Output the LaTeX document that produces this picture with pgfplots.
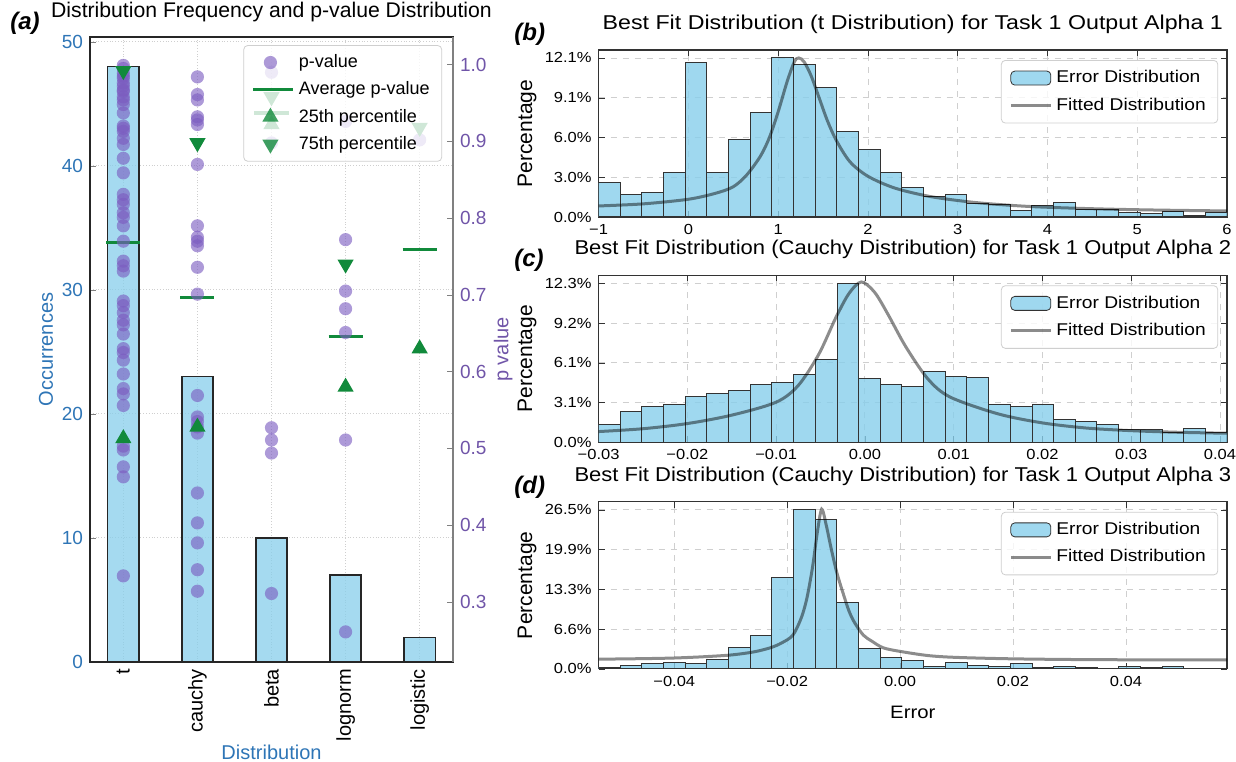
\documentclass[border=0pt]{standalone}
\usepackage{fontspec}
\setmainfont{Liberation Sans}
\newfontfamily\widesf[FakeStretch=1.13]{Liberation Sans}
\newfontfamily\titlebf[FakeStretch=1.16]{Liberation Sans}
\newfontfamily\titlecf[FakeStretch=1.10]{Liberation Sans}
\usepackage{pgfplots}
\pgfplotsset{compat=1.18}
\definecolor{barblue}{HTML}{87CEEB}
\definecolor{pblue}{HTML}{2E75B6}
\definecolor{ppurple}{HTML}{7055A8}
\definecolor{mpurple}{HTML}{7B5CC0}
\definecolor{pgreen}{HTML}{118A3B}
\definecolor{gridc}{HTML}{CFCFCF}

\pgfplotsset{
  patchleg/.style={legend image code/.code={\draw[##1] (0pt,-3.5pt) rectangle (20pt,3.5pt);}},
  lineleg/.style={legend image code/.code={\draw[##1] (0pt,0pt) -- (20pt,0pt);}},
  pv/.style={only marks, mark=*, mark size=3.3pt, color=mpurple, mark options={fill=mpurple, fill opacity=0.62, draw opacity=0}},
  q1/.style={only marks, mark=triangle*, mark size=4.7pt, color=pgreen, mark options={fill=pgreen, draw opacity=0}},
  q3/.style={only marks, mark=triangle*, mark size=4.7pt, color=pgreen, mark options={fill=pgreen, draw opacity=0, rotate=180}},
  avg/.style={pgreen, line width=1.6pt},
  hist/.style={
    width=314.2pt, height=83.5pt, scale only axis,
    scaled x ticks=false, scaled y ticks=false,
    axis line style={black!80, line width=0.6pt},
    grid=major, grid style={gridc, dashed, line width=0.4pt},
    tick align=inside, major tick length=3pt, tick style={black!80},
    tick label style={font=\widesf\fontsize{7.3}{8.5}\selectfont},
    title style={at={(0.5,1)}, anchor=base, inner sep=0pt, yshift=4.2pt},
    ylabel style={font=\fontsize{10.5}{12}\selectfont, at={(rel axis cs:-0.114,0.5)}, anchor=center},
    ymin=0,
    legend style={at={(0.986,0.94)}, anchor=north east, font=\widesf\fontsize{8.5}{10}\selectfont,
      fill=white, fill opacity=0.8, text opacity=1, draw=gridc, rounded corners=2pt,
      row sep=2pt, inner xsep=4pt, inner ysep=3pt},
    legend cell align=left,
  },
  histbar/.style={ybar interval, fill=barblue, fill opacity=0.8, draw=black!80, line width=0.5pt, forget plot},
  fitline/.style={smooth, black, opacity=0.45, line width=1.5pt, forget plot},
}

\begin{document}
\begin{tikzpicture}
\path[use as bounding box] (0,0) rectangle (618pt,380.5pt);

\node[anchor=base west, inner sep=0pt, font=\bfseries\itshape\fontsize{12}{14}\selectfont] at (5pt,365.5pt) {(a)};
\node[anchor=base west, inner sep=0pt, font=\bfseries\itshape\fontsize{12}{14}\selectfont] at (257pt,360pt) {(b)};
\node[anchor=base west, inner sep=0pt, font=\bfseries\itshape\fontsize{12}{14}\selectfont] at (257pt,247.2pt) {(c)};
\node[anchor=base west, inner sep=0pt, font=\bfseries\itshape\fontsize{12}{14}\selectfont] at (257pt,134pt) {(d)};

% ---------- (a) occurrences ----------
\begin{axis}[
  at={(45pt,49.5pt)}, anchor=south west, width=181.5pt, height=312.5pt, scale only axis,
  xmin=-0.45, xmax=4.45, ymin=0, ymax=50.4,
  xtick={0,1,2,3,4}, xticklabels={t,cauchy,beta,lognorm,logistic},
  ytick={0,10,20,30,40,50}, yticklabels={0,10,20,30,40,50},
  ytick pos=left, tick align=inside, major tick length=3pt,
  xtick style={draw=none},
  x tick label style={rotate=90, anchor=east, font=\fontsize{10}{12}\selectfont},
  y tick label style={font=\fontsize{9.5}{11}\selectfont, text=pblue},
  grid=major, grid style={gridc, densely dotted, line width=0.5pt},
  axis line style={black!85, line width=0.6pt},
  title={Distribution Frequency and p-value Distribution},
  title style={at={(0.5,1)}, anchor=base, inner sep=0pt, yshift=3.5pt, font=\fontsize{10.6}{12}\selectfont},
  ylabel={Occurrences},
  ylabel style={text=pblue, font=\fontsize{10}{12}\selectfont, at={(rel axis cs:-0.121,0.5)}, anchor=center},
  xlabel={Distribution},
  xlabel style={text=pblue, font=\fontsize{10}{12}\selectfont, at={(rel axis cs:0.5,-0.144)}, anchor=center},
]
\addplot[ybar, bar width=0.42, fill=barblue, fill opacity=0.75, draw=black!85, line width=0.7pt]
  coordinates {(0,48) (1,23) (2,10) (3,7) (4,2)};
\end{axis}

% ---------- (a) p values ----------
\begin{axis}[
  at={(45pt,49.5pt)}, anchor=south west, width=181.5pt, height=312.5pt, scale only axis,
  xmin=-0.45, xmax=4.45, ymin=0.2218, ymax=1.036,
  axis x line=none, axis y line*=right,
  y axis line style={gray, line width=1.1pt},
  ytick={0.3,0.4,0.5,0.6,0.7,0.8,0.9,1.0},
  yticklabels={0.3,0.4,0.5,0.6,0.7,0.8,0.9,1.0},
  tick align=inside, major tick length=3pt, ytick style={gray},
  y tick label style={font=\fontsize{9.5}{11}\selectfont, text=ppurple},
  clip=false,
  legend style={at={(0.970,0.987)}, anchor=north east, font=\fontsize{9}{10}\selectfont,
    fill=white, fill opacity=0.8, text opacity=1, draw=gridc, rounded corners=2pt,
    row sep=1.6pt, inner xsep=4pt, inner ysep=2.5pt},
  legend cell align=left,
]
\addlegendimage{pv}
\addlegendentry{p-value}
\addlegendimage{lineleg, avg}
\addlegendentry{Average p-value}
\addlegendimage{q1}
\addlegendentry{25th percentile}
\addlegendimage{q3}
\addlegendentry{75th percentile}

% p-values of each fit
\addplot[pv, forget plot] coordinates {
  (0,0.999) (0,0.995) (0,0.989) (0,0.985) (0,0.982) (0,0.976) (0,0.972) (0,0.967)
  (0,0.965) (0,0.958) (0,0.954) (0,0.948) (0,0.937) (0,0.920) (0,0.917) (0,0.913)
  (0,0.904) (0,0.896) (0,0.878) (0,0.859) (0,0.831) (0,0.824) (0,0.818) (0,0.807)
  (0,0.801) (0,0.790) (0,0.770) (0,0.744) (0,0.738) (0,0.731) (0,0.692) (0,0.686)
  (0,0.677) (0,0.667) (0,0.661) (0,0.649) (0,0.630) (0,0.625) (0,0.615) (0,0.597)
  (0,0.578) (0,0.571) (0,0.556) (0,0.503) (0,0.498) (0,0.476) (0,0.463) (0,0.334)
  (1,0.984) (1,0.961) (1,0.954) (1,0.932) (1,0.928) (1,0.922) (1,0.870) (1,0.790)
  (1,0.775) (1,0.770) (1,0.764) (1,0.736) (1,0.701) (1,0.569) (1,0.541) (1,0.535)
  (1,0.528) (1,0.520) (1,0.442) (1,0.403) (1,0.377) (1,0.342) (1,0.314)
  (2,0.990) (2,0.898) (2,0.527) (2,0.511) (2,0.494) (2,0.311)
  (3,0.926) (3,0.772) (3,0.705) (3,0.682) (3,0.651) (3,0.511) (3,0.261)
  (4,0.902)};

% averages
\addplot[avg, forget plot] coordinates {(-0.23,0.768) (0.23,0.768)};
\addplot[avg, forget plot] coordinates {(0.77,0.697) (1.23,0.697)};
\addplot[avg, forget plot] coordinates {(1.77,0.937) (2.23,0.937)};
\addplot[avg, forget plot] coordinates {(2.77,0.646) (3.23,0.646)};
\addplot[avg, forget plot] coordinates {(3.77,0.759) (4.23,0.759)};

% quartiles
\addplot[q1, forget plot] coordinates {(0,0.513) (1,0.528) (2,0.922) (3,0.580) (4,0.630)};
\addplot[q3, forget plot] coordinates {(0,0.992) (1,0.898) (2,0.958) (3,0.740) (4,0.918)};

\node[rotate=90, text=ppurple, font=\fontsize{10}{12}\selectfont] at (rel axis cs:1.138,0.5) {p value};
\end{axis}

% ---------- (b) ----------
\begin{axis}[hist, at={(299.3pt,272pt)}, anchor=south west,
  title={Best Fit Distribution (t Distribution) for Task 1 Output Alpha 1},
  title style={font=\titlebf\fontsize{10}{12}\selectfont},
  xmin=-1, xmax=6, ymax=12.705,
  xtick={-1,0,1,2,3,4,5,6}, xticklabels={−1,0,1,2,3,4,5,6},
  ytick={0,3.025,6.05,9.075,12.1}, yticklabels={0.0\%,3.0\%,6.0\%,9.1\%,12.1\%},
  ylabel={Percentage}]
\addlegendimage{patchleg, fill=barblue, fill opacity=0.8, draw=black!80}
\addlegendentry{Error Distribution}
\addlegendimage{lineleg, black, opacity=0.45, line width=1.5pt}
\addlegendentry{Fitted Distribution}
\addplot[histbar] coordinates {
  (-1.0000,2.60) (-0.7586,1.71) (-0.5172,1.86) (-0.2759,3.36) (-0.0345,11.72)
  (0.2069,3.36) (0.4483,5.86) (0.6897,7.95) (0.9310,12.10) (1.1724,11.59)
  (1.4138,9.86) (1.6552,6.47) (1.8966,5.12) (2.1379,3.36) (2.3793,2.22)
  (2.6207,1.58) (2.8621,1.73) (3.1034,1.02) (3.3448,0.97) (3.5862,0.51)
  (3.8276,0.84) (4.0690,1.10) (4.3103,0.56) (4.5517,0.56) (4.7931,0.33)
  (5.0345,0.25) (5.2759,0.41) (5.5172,0.13) (5.7586,0.33) (6.0000,0.33)};
\addplot[fitline] coordinates {
  (-1.0,0.84) (-0.5,1.0) (0.0,1.35) (0.3,1.8) (0.5,2.3) (0.65,3.2) (0.8,4.6)
  (0.9,6.0) (1.0,8.0) (1.1,10.3) (1.18,11.8) (1.23,12.1) (1.29,11.8) (1.37,10.7)
  (1.46,9.0) (1.55,7.3) (1.65,5.8) (1.8,4.2) (2.0,3.1) (2.3,2.2) (2.7,1.55)
  (3.2,1.1) (3.8,0.8) (4.5,0.63) (5.2,0.53) (6.0,0.46)};
\end{axis}

% ---------- (c) ----------
\begin{axis}[hist, at={(299.3pt,159.35pt)}, anchor=south west,
  title={Best Fit Distribution (Cauchy Distribution) for Task 1 Output Alpha 2},
  title style={font=\titlecf\fontsize{10}{12}\selectfont, xshift=-5pt},
  xmin=-0.03, xmax=0.0408, ymax=12.915,
  xtick={-0.03,-0.02,-0.01,0,0.01,0.02,0.03,0.04},
  xticklabels={−0.03,−0.02,−0.01,0.00,0.01,0.02,0.03,0.04},
  ytick={0,3.075,6.15,9.225,12.3}, yticklabels={0.0\%,3.1\%,6.1\%,9.2\%,12.3\%},
  ylabel={Percentage}]
\addlegendimage{patchleg, fill=barblue, fill opacity=0.8, draw=black!80}
\addlegendentry{Error Distribution}
\addlegendimage{lineleg, black, opacity=0.45, line width=1.5pt}
\addlegendentry{Fitted Distribution}
\addplot[histbar] coordinates {
  (-0.03000,1.36) (-0.02756,2.35) (-0.02512,2.79) (-0.02268,2.92) (-0.02023,3.54)
  (-0.01779,3.80) (-0.01535,4.04) (-0.01291,4.46) (-0.01047,4.64) (-0.00803,5.24)
  (-0.00559,6.41) (-0.00314,12.30) (-0.00070,4.90) (0.00174,4.46) (0.00418,4.33)
  (0.00662,5.45) (0.00906,5.11) (0.01150,5.00) (0.01394,2.92) (0.01639,2.79)
  (0.01883,2.92) (0.02127,1.75) (0.02371,1.62) (0.02615,1.41) (0.02859,0.96)
  (0.03103,0.96) (0.03348,0.78) (0.03592,1.04) (0.03836,0.78) (0.04080,0.78)};
\addplot[fitline] coordinates {
  (-0.0300,0.83) (-0.0250,1.05) (-0.0200,1.45) (-0.0150,2.10) (-0.0100,3.10)
  (-0.0075,4.40) (-0.0052,6.80) (-0.0033,9.60) (-0.0018,11.5) (-0.0004,12.4)
  (0.0011,11.6) (0.0026,9.9) (0.0046,7.4) (0.0071,4.9) (0.0096,3.5)
  (0.0150,2.2) (0.0200,1.5) (0.0250,1.1) (0.0300,0.9) (0.0350,0.78) (0.0408,0.70)};
\end{axis}

% ---------- (d) ----------
\begin{axis}[hist, at={(299.3pt,46.1pt)}, anchor=south west,
  title={Best Fit Distribution (Cauchy Distribution) for Task 1 Output Alpha 3},
  title style={font=\titlecf\fontsize{10}{12}\selectfont, xshift=-5pt},
  xmin=-0.0534, xmax=0.0579, ymax=27.825,
  xtick={-0.04,-0.02,0,0.02,0.04},
  xticklabels={−0.04,−0.02,0.00,0.02,0.04},
  ytick={0,6.625,13.25,19.875,26.5}, yticklabels={0.0\%,6.6\%,13.3\%,19.9\%,26.5\%},
  ylabel={Percentage},
  xlabel={Error},
  xlabel style={font=\widesf\fontsize{9}{11}\selectfont, at={(rel axis cs:0.5,-0.26)}, anchor=center}]
\addlegendimage{patchleg, fill=barblue, fill opacity=0.8, draw=black!80}
\addlegendentry{Error Distribution}
\addlegendimage{lineleg, black, opacity=0.45, line width=1.5pt}
\addlegendentry{Fitted Distribution}
\addplot[histbar] coordinates {
  (-0.05340,0.28) (-0.04956,0.55) (-0.04572,0.94) (-0.04189,1.05) (-0.03805,0.88)
  (-0.03421,1.55) (-0.03037,3.48) (-0.02653,5.58) (-0.02270,15.13) (-0.01886,26.50)
  (-0.01502,24.80) (-0.01118,10.99) (-0.00734,3.37) (-0.00350,1.88) (0.00033,1.38)
  (0.00417,0.39) (0.00801,0.99) (0.01185,0.55) (0.01569,0.33) (0.01952,0.83)
  (0.02336,0.22) (0.02720,0.39) (0.03104,0.28) (0.03488,0.11) (0.03872,0.33)
  (0.04255,0.28) (0.04639,0.33) (0.05023,0) (0.05407,0) (0.05791,0)};
\addplot[fitline] coordinates {
  (-0.0534,1.60) (-0.0450,1.70) (-0.0400,1.80) (-0.0350,2.00) (-0.0300,2.30)
  (-0.0260,2.80) (-0.0230,3.50) (-0.0210,4.30) (-0.0190,5.60) (-0.0175,8.50)
  (-0.0165,11.8) (-0.0155,17.0) (-0.0147,22.5) (-0.0139,26.6) (-0.0131,24.0)
  (-0.0122,20.0) (-0.0112,16.0) (-0.0100,12.3) (-0.0090,9.5) (-0.0080,7.6)
  (-0.0065,5.6) (-0.0050,4.6) (-0.0030,3.5) (0.0000,2.9) (0.0050,2.2)
  (0.0100,1.9) (0.0200,1.66) (0.0350,1.52) (0.0579,1.48)};
\end{axis}
\end{tikzpicture}
\end{document}
